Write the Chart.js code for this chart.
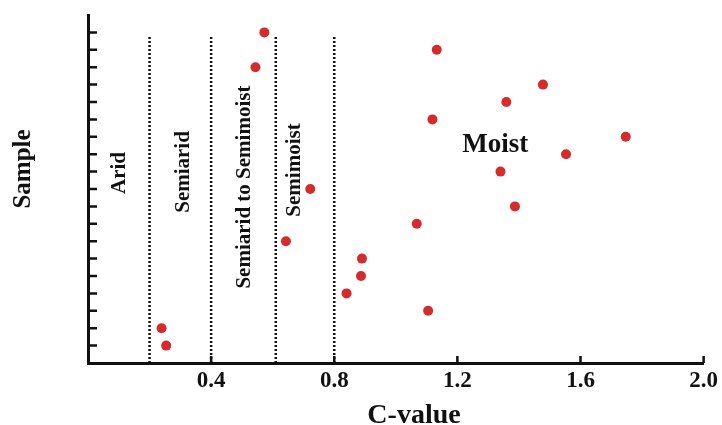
<!DOCTYPE html>
<html>
<head>
<meta charset="utf-8">
<script src="https://cdn.jsdelivr.net/npm/chart.js@4.4.1/dist/chart.umd.min.js"></script>
<style>
  html, body { margin: 0; padding: 0; background: #fff; }
</style>
</head>
<body>
<canvas id="chart" width="722" height="425"></canvas>
<script>
// sample number (y) and its C-value (x)
var sampleIds = [1, 2, 3, 4, 5, 6, 7, 8, 9, 10, 11, 12, 13, 14, 15, 16, 17, 18, 19];
var cValues = [0.254, 0.239, 1.105, 0.840, 0.887, 0.890, 0.643, 1.068, 1.387, 0.722,
               1.340, 1.553, 1.747, 1.119, 1.359, 1.478, 0.544, 1.133, 0.573];

var xTicks = [0.4, 0.8, 1.2, 1.6, 2.0];
var yTicks = sampleIds;

// climate zone boundaries (dotted lines)
var boundaries = [0.2, 0.4, 0.61, 0.8];
var boundaryTop = 18.8;

// zone labels, placed in data units
var zoneNames = ['Arid', 'Semiarid', 'Semiarid to Semimoist', 'Semimoist', 'Moist'];
var zoneX = [0.119, 0.329, 0.527, 0.689, 1.323];
var zoneY = [10.92, 10.98, 10.11, 11.09, 12.14];

var serif = '"Liberation Serif", "Times New Roman", serif';
var ink = '#111';

var points = sampleIds.map(function(id, i) {
    return { x: cValues[i], y: id };
});

var datasets = [{
    type: 'scatter',
    data: points,
    pointRadius: 5,
    pointHoverRadius: 5,
    pointBackgroundColor: '#d42b2b',
    pointBorderWidth: 0
}];

boundaries.forEach(function(b) {
    datasets.push({
        type: 'line',
        data: [{ x: b, y: 0 }, { x: b, y: boundaryTop }],
        borderColor: ink,
        borderWidth: 2.5,
        borderDash: [2, 2],
        pointRadius: 0,
        fill: false
    });
});

// inward ticks, axis titles and zone names
var decorPlugin = {
    id: 'decor',
    afterDraw: function(chart) {
        var ctx = chart.ctx;
        var xs = chart.scales.x, ys = chart.scales.y;
        var area = chart.chartArea;
        ctx.save();
        ctx.strokeStyle = ink;
        ctx.lineWidth = 2.5;
        ctx.beginPath();
        yTicks.forEach(function(t) {
            var py = ys.getPixelForValue(t);
            ctx.moveTo(area.left, py);
            ctx.lineTo(area.left + 9, py);
        });
        xTicks.forEach(function(t) {
            var px = xs.getPixelForValue(t);
            ctx.moveTo(px, area.bottom);
            ctx.lineTo(px, area.bottom - 7);
        });
        ctx.stroke();

        ctx.fillStyle = ink;
        ctx.textAlign = 'center';
        ctx.textBaseline = 'alphabetic';

        // zone names
        zoneNames.forEach(function(name, i) {
            var px = xs.getPixelForValue(zoneX[i]);
            var py = ys.getPixelForValue(zoneY[i]);
            ctx.save();
            ctx.translate(px, py);
            if (name === 'Moist') {
                ctx.font = 'bold 27px ' + serif;
            } else {
                ctx.font = 'bold 21px ' + serif;
                ctx.rotate(-Math.PI / 2);
            }
            ctx.fillText(name, 0, 0);
            ctx.restore();
        });

        // axis titles
        ctx.font = 'bold 28px ' + serif;
        ctx.fillText('C-value', 414, 423);
        ctx.save();
        ctx.translate(30, 169);
        ctx.rotate(-Math.PI / 2);
        ctx.font = 'bold 25px ' + serif;
        ctx.fillText('Sample', 0, 0);
        ctx.restore();
        ctx.restore();
    }
};

new Chart(document.getElementById('chart'), {
    type: 'scatter',
    data: { datasets: datasets },
    options: {
        responsive: false,
        animation: false,
        devicePixelRatio: 1,
        layout: { padding: { left: 0, right: 14, top: 15, bottom: 0 } },
        plugins: {
            legend: { display: false },
            tooltip: { enabled: false }
        },
        scales: {
            x: {
                type: 'linear',
                min: 0,
                max: 2.0,
                grid: { display: false, drawTicks: false },
                border: { display: true, width: 3, color: ink },
                afterFit: function(scale) { scale.height = 62; },
                ticks: {
                    stepSize: 0.4,
                    padding: 4,
                    color: ink,
                    font: { family: serif, size: 23, weight: 'bold' },
                    callback: function(v) {
                        var hit = xTicks.some(function(t) { return Math.abs(t - v) < 1e-6; });
                        return hit ? v.toFixed(1) : '';
                    }
                }
            },
            y: {
                type: 'linear',
                min: 0,
                max: 20,
                grid: { display: false, drawTicks: false },
                border: { display: true, width: 3, color: ink },
                afterFit: function(scale) { scale.width = 88; },
                ticks: { display: false }
            }
        }
    },
    plugins: [decorPlugin]
});
</script>
</body>
</html>
